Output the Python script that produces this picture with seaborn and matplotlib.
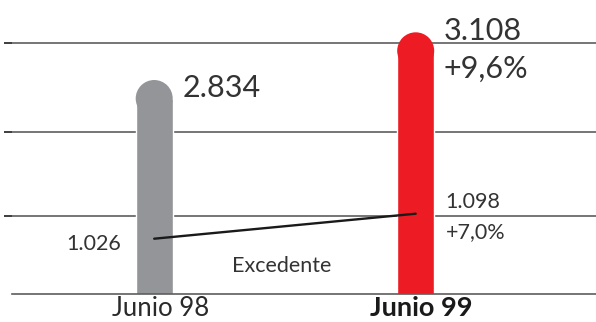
import matplotlib
matplotlib.use("Agg")
import matplotlib.pyplot as plt
import matplotlib.transforms as mtransforms
from matplotlib.patches import Ellipse
import pandas as pd
import seaborn as sns

# Data
periods = ["Junio 98", "Junio 99"]
totals = [2834, 3108]
total_labels = ["2.834", "3.108"]
growth_total = "+9,6%"
surplus = [1026, 1098]
surplus_labels = ["1.026", "1.098"]
growth_surplus = "+7,0%"
surplus_name = "Excedente"
bar_colors = ["#939598", "#ED1C24"]

sns.set_theme(style="white")
plt.rcParams["font.family"] = ["Lato", "DejaVu Sans"]

W, H = 596, 322
fig = plt.figure(figsize=(W / 100, H / 100), dpi=100)
left_px, right_px, base_px, top_px = 12, 596, 293.5, 0
ax_w_px, ax_h_px = right_px - left_px, base_px - top_px
ax = fig.add_axes([left_px / W, (H - base_px) / H, ax_w_px / W, ax_h_px / H])

df = pd.DataFrame({"periodo": periods, "total": totals})
sns.barplot(data=df, x="periodo", y="total", hue="periodo", palette=bar_colors,
            saturation=1, width=0.1415, legend=False, ax=ax, zorder=2)

xlim = (-0.5438, 1.6895)
ylim = (1607.6, 3293.6)
ax.set_xlim(*xlim)
ax.set_ylim(*ylim)

# Rounded caps on top of the bars
px_per_x = ax_w_px / (xlim[1] - xlim[0])
px_per_y = ax_h_px / (ylim[1] - ylim[0])
for p in list(ax.patches):
    x0, w, h = p.get_x(), p.get_width(), p.get_height()
    r_y = (w * px_per_x / 2) / px_per_y
    p.set_height(h - r_y)
    ax.add_patch(Ellipse((x0 + w / 2, h - r_y), w, 2 * r_y,
                         facecolor=p.get_facecolor(), edgecolor="none", zorder=2))

# Horizontal reference lines
grid_color = "#5e5e5e"
ax.set_yticks([2054.5, 2537, 3046.5])
ax.yaxis.grid(True, color=grid_color, linewidth=1.2)
ax.set_axisbelow(True)
ax.tick_params(axis="y", left=False, labelleft=False)
for s in ["top", "right", "left"]:
    ax.spines[s].set_visible(False)
ax.spines["bottom"].set_color(grid_color)
ax.spines["bottom"].set_linewidth(1.2)
ax.spines["bottom"].set_zorder(3)
ax.set_xlabel("")
ax.set_ylabel("")

# Category labels
ax.set_xticks([0, 1])
ax.set_xticklabels(periods)
ax.tick_params(axis="x", length=0, pad=2, labelsize=18.5, colors="#2a2a2a")
shift = mtransforms.ScaledTranslation(6 / 100, 0, fig.dpi_scale_trans)
for i, lab in enumerate(ax.get_xticklabels()):
    lab.set_transform(lab.get_transform() + shift)
    if i == 1:
        lab.set_fontweight("bold")
        lab.set_fontsize(19.5)
        lab.set_color("#1a1a1a")

# Surplus line on its own scale
ax2 = ax.twinx()
ax2.set_ylim(868.2, 1713.5)
sns.lineplot(x=[0, 1], y=surplus, ax=ax2, color="#1a1a1a", linewidth=1.7)
ax2.set_yticks([])
for s in ax2.spines.values():
    s.set_visible(False)
ax2.set_ylabel("")

txt = "#333333"
big, small = 22, 15.5
ax.annotate(total_labels[0], (0, totals[0]), xytext=(28, -17), textcoords="offset pixels",
            ha="left", va="baseline", fontsize=big, color=txt)
ax.annotate(total_labels[1], (1, totals[1]), xytext=(28, -8), textcoords="offset pixels",
            ha="left", va="baseline", fontsize=big, color=txt)
ax.annotate(growth_total, (1, totals[1]), xytext=(28, -45), textcoords="offset pixels",
            ha="left", va="baseline", fontsize=big, color=txt)
ax2.annotate(surplus_labels[0], (0, surplus[0]), xytext=(-33, -11.3), textcoords="offset pixels",
             ha="right", va="baseline", fontsize=small, color=txt)
ax2.annotate(surplus_labels[1], (1, surplus[1]), xytext=(30, 5.7), textcoords="offset pixels",
             ha="left", va="baseline", fontsize=small, color=txt)
ax2.annotate(growth_surplus, (1, surplus[1]), xytext=(30, -24), textcoords="offset pixels",
             ha="left", va="baseline", fontsize=small, color=txt)
ax2.annotate(surplus_name, (0, surplus[0]), xytext=(78, -33), textcoords="offset pixels",
             ha="left", va="baseline", fontsize=small, color=txt)

fig.savefig("out.png", dpi=100)
